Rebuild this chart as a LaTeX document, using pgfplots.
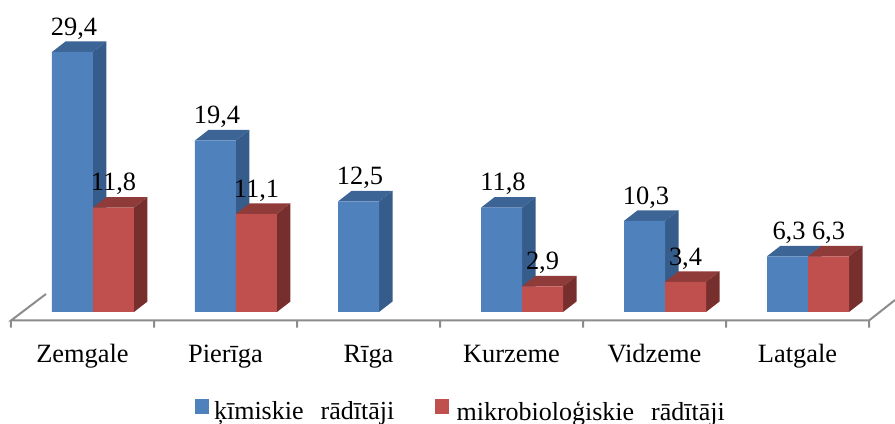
\documentclass[border=0pt]{standalone}
\usepackage{fontspec}
\setmainfont{Liberation Serif}
\usepackage{pgfplots}
\pgfplotsset{compat=1.18}

\definecolor{blueFront}{HTML}{4F81BD}
\definecolor{blueSide}{HTML}{355C8A}
\definecolor{blueTop}{HTML}{3C6596}
\definecolor{redFront}{HTML}{C0504D}
\definecolor{redSide}{HTML}{772F2D}
\definecolor{redTop}{HTML}{8F3B39}
\definecolor{floorGrey}{HTML}{8C8C8C}

% side and top faces of one 3D bar: left edge in category units, value, colours
\newcommand{\barfaces}[4]{%
  \pgfmathsetmacro\xl{#1}%
  \pgfmathsetmacro\xr{#1+0.2867}%
  \pgfmathsetmacro\xlb{\xl+0.0944}%
  \pgfmathsetmacro\xrb{\xr+0.0944}%
  \pgfmathsetmacro\vb{#2+1.187}%
  \addplot[fill=#3,draw=none,forget plot] coordinates {(\xl,#2) (\xr,#2) (\xrb,\vb) (\xlb,\vb)} -- cycle;
  \addplot[fill=#4,draw=none,forget plot] coordinates {(\xr,0) (\xrb,1.187) (\xrb,\vb) (\xr,#2)} -- cycle;
}

\begin{document}
\begin{tikzpicture}
\path[use as bounding box] (0,0) rectangle (671.25pt,318pt);
\begin{axis}[
    scale only axis, width=671.25pt, height=318pt,
    xmin=-0.6503, xmax=5.6084, ymin=-12.664, ymax=35.278,
    clip=false,
    axis line style={draw=none},
    tick style={draw=none},
    ytick=\empty,
    xtick={-0.0734,0.9266,1.9266,2.9266,3.9266,4.9266},
    xticklabels={Zemgale,Pierīga,Rīga,Kurzeme,Vidzeme,Latgale},
    xticklabel style={font=\fontsize{19.8pt}{22pt}\selectfont, anchor=base, yshift=46pt},
    /pgf/number format/.cd, use comma, fixed, fixed zerofill, precision=1, assume math mode=true,
    /pgfplots/.cd,
    datalabels/.style={nodes near coords,
        every node near coord/.append style={font=\fontsize{19.8pt}{22pt}\selectfont, text=black, anchor=center, xshift=#1, yshift=17.6pt, inner sep=0pt}},
    legend columns=2,
    legend style={draw=none, fill=none, at={(rel axis cs:0.2180,-0.0025)}, anchor=south west,
        font=\fontsize{19.5pt}{22pt}\selectfont, inner sep=0pt,
        /tikz/every even column/.append style={column sep=28.5pt}},
    legend image code/.code={\fill[#1] (0pt,-2pt) rectangle (10.5pt,9.25pt);},
]

% floor of the 3D chart, with its ticks
\addplot[floorGrey, line width=1.5pt, forget plot, unbounded coords=jump] coordinates {
    (-0.3287,2.035) (-0.5734,-0.961) (5.4266,-0.961) (5.6084,1.357)
    (nan,nan)
    (-0.5734,-0.961) (-0.5734,-1.753) (nan,nan)
    (0.4266,-0.961) (0.4266,-1.753) (nan,nan)
    (1.4266,-0.961) (1.4266,-1.753) (nan,nan)
    (2.4266,-0.961) (2.4266,-1.753) (nan,nan)
    (3.4266,-0.961) (3.4266,-1.753) (nan,nan)
    (4.4266,-0.961) (4.4266,-1.753) (nan,nan)
    (5.4266,-0.961) (5.4266,-1.753)
};

% ķīmiskie rādītāji
\barfaces{-0.2867}{29.4}{blueTop}{blueSide}
\barfaces{0.7133}{19.4}{blueTop}{blueSide}
\barfaces{1.7133}{12.5}{blueTop}{blueSide}
\barfaces{2.7133}{11.8}{blueTop}{blueSide}
\barfaces{3.7133}{10.3}{blueTop}{blueSide}
\barfaces{4.7133}{6.3}{blueTop}{blueSide}
\addplot[ybar, bar width=30.75pt, bar shift=-15.375pt, fill=blueFront, draw=none, datalabels=-14.25pt] coordinates {
    (0,29.4) (1,19.4) (2,12.5) (3,11.8) (4,10.3) (5,6.3)
};
\addlegendentry{\hspace{1.5pt}ķīmiskie\hspace{12.75pt}rādītāji}

% mikrobioloģiskie rādītāji (none for Rīga)
\barfaces{0}{11.8}{redTop}{redSide}
\barfaces{1}{11.1}{redTop}{redSide}
\barfaces{3}{2.9}{redTop}{redSide}
\barfaces{4}{3.4}{redTop}{redSide}
\barfaces{5}{6.3}{redTop}{redSide}
\addplot[ybar, bar width=30.75pt, bar shift=15.375pt, fill=redFront, draw=none, datalabels=15.375pt] coordinates {
    (0,11.8) (1,11.1) (3,2.9) (4,3.4) (5,6.3)
};
\addlegendentry{\hspace{3.75pt}mikrobioloģiskie\hspace{12.75pt}rādītāji}

\end{axis}
\end{tikzpicture}
\end{document}
